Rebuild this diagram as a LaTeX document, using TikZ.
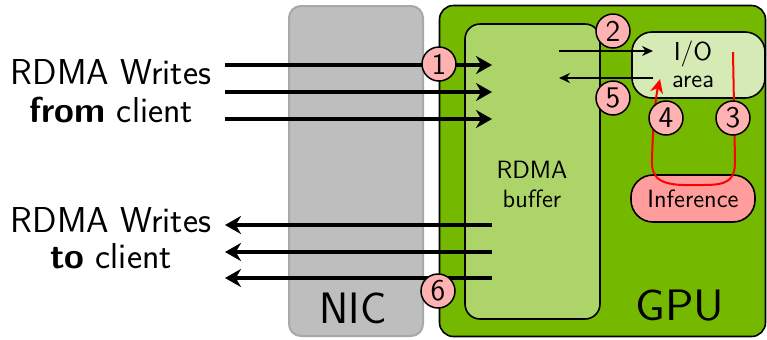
\documentclass[tikz,border=0pt]{standalone}
\usetikzlibrary{arrows.meta}
\definecolor{gpugreen}{RGB}{116,185,0}
\definecolor{bufgreen}{RGB}{172,212,104}
\definecolor{iogreen}{RGB}{214,234,182}
\definecolor{infred}{RGB}{255,156,156}
\definecolor{numpink}{RGB}{255,178,178}
\definecolor{nicgray}{RGB}{190,190,190}
\definecolor{nicedge}{RGB}{168,168,168}
\begin{document}
\begin{tikzpicture}[x=0.5pt,y=-0.5pt,
  lbl/.style={font=\sffamily\fontsize{18pt}{20pt}\selectfont, anchor=base, inner sep=0},
  big/.style={font=\sffamily\fontsize{22pt}{25pt}\selectfont, anchor=base, inner sep=0},
  small/.style={font=\sffamily\fontsize{12.5pt}{14pt}\selectfont, anchor=base, inner sep=0},
  num/.style={circle, draw=black, line width=0.75pt, fill=numpink, minimum size=17pt, inner sep=0,
     font=\sffamily\fontsize{15pt}{16pt}\selectfont},
  thick arrow/.style={line width=1.6pt, -{Stealth[length=8pt,width=9pt]}},
  thin arrow/.style={line width=0.7pt, -{Stealth[length=5.5pt,width=5pt]}},
  redline/.style={draw=red, line width=1pt},
  boxline/.style={draw=black, line width=0.8pt}]
\useasboundingbox (0,0) rectangle (767,339);
% boxes
\node[draw=nicedge, line width=1pt, fill=nicgray, rounded corners=6pt, minimum width=67pt, minimum height=165pt, inner sep=0] (nic) at (356,171) {};
\node[boxline, fill=gpugreen, rounded corners=7pt, minimum width=163pt, minimum height=165.5pt, inner sep=0] (gpu) at (602.5,171) {};
\node[boxline, fill=bufgreen, rounded corners=7.5pt, minimum width=67.5pt, minimum height=147.5pt, inner sep=0] (buf) at (532.5,171.5) {};
\node[boxline, fill=iogreen, rounded corners=10pt, minimum width=66.5pt, minimum height=33pt, inner sep=0] (io) at (698.5,65) {};
\node[boxline, fill=infred, rounded corners=11pt, minimum width=62pt, minimum height=23.5pt, inner sep=0] (inf) at (693,198.5) {};
% texts
\node[lbl] (t1) at (111,84) {RDMA Writes};
\node[lbl] (t2) at (111,122) {\textbf{from} client};
\node[lbl] (t3) at (111,232) {RDMA Writes};
\node[lbl] (t4) at (111,268) {\textbf{to} client};
\node[big] (nict) at (353,323) {NIC};
\node[big, xscale=1.08, transform shape] (gput) at (680,320) {GPU};
\node[small] (bt1) at (532,178) {RDMA};
\node[small] (bt2) at (532,207) {buffer};
\node[small, font=\sffamily\fontsize{13pt}{14pt}\selectfont] (iot1) at (693,60) {I/O};
\node[small] (iot2) at (693,87) {area};
\node[small] (inft) at (693,207) {Inference};
% coordinates for arrows
\coordinate (a1) at (225,65); \coordinate (b1) at (492,65);
\coordinate (a2) at (225,92); \coordinate (b2) at (492,92);
\coordinate (a3) at (225,119); \coordinate (b3) at (492,119);
\coordinate (c1) at (492,225); \coordinate (d1) at (225,225);
\coordinate (c2) at (492,252); \coordinate (d2) at (225,252);
\coordinate (c3) at (492,278); \coordinate (d3) at (225,278);
\coordinate (s2) at (559,51); \coordinate (e2) at (653,51);
\coordinate (s5) at (653,78); \coordinate (e5) at (559,78);
\coordinate (r0) at (733,52); \coordinate (r1) at (660,79);
\draw[thick arrow] (a1) -- (b1);
\draw[thick arrow] (a2) -- (b2);
\draw[thick arrow] (a3) -- (b3);
\draw[thick arrow] (c1) -- (d1);
\draw[thick arrow] (c2) -- (d2);
\draw[thick arrow] (c3) -- (d3);
\draw[thin arrow] (s2) -- (e2);
\draw[thin arrow] (s5) -- (e5);
\draw[redline, -{Stealth[length=7pt,width=6.5pt]}] (r0) -- (735,160) .. controls (736,186) and (720,185) .. (695,185) .. controls (662,186) and (651,180) .. (652,160) .. controls (653,120) and (656,95) .. (r1);
% numbers
\node[num] (n1) at (439,64) {1};
\node[num] (n2) at (613,31) {2};
\node[num] (n3) at (733,118) {3};
\node[num] (n4) at (666,118) {4};
\node[num] (n5) at (613,98) {5};
\node[num] (n6) at (438,291) {6};
\end{tikzpicture}
\end{document}
